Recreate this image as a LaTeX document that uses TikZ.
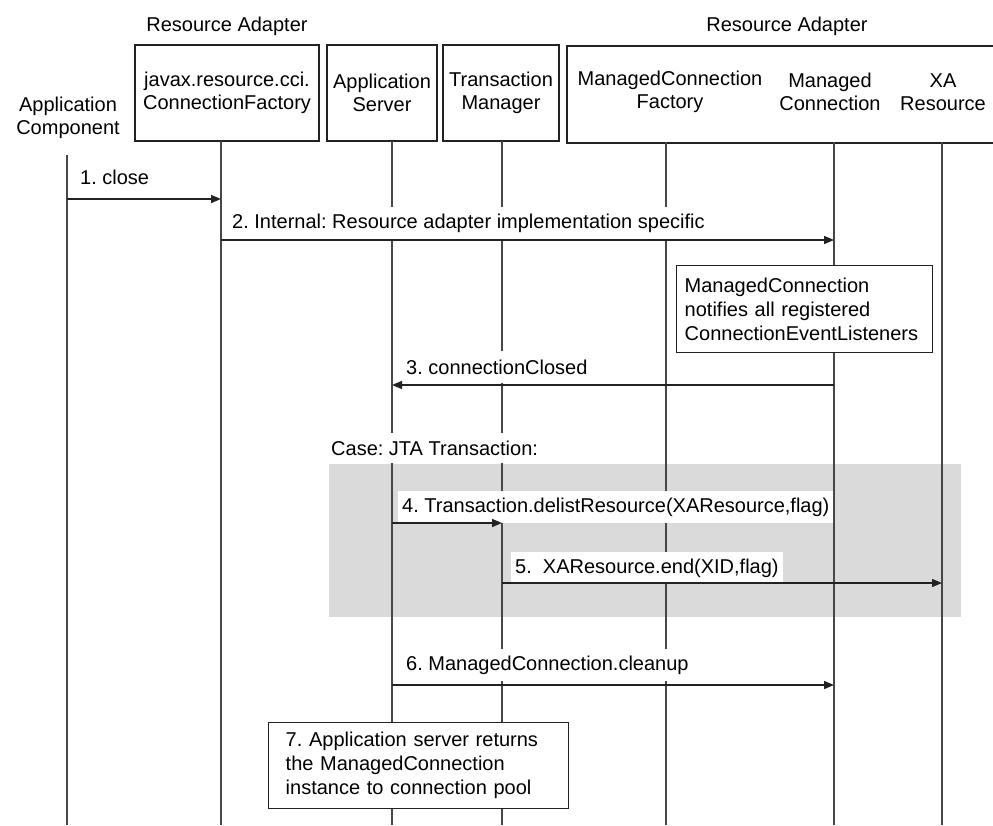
\documentclass[tikz,border=0pt]{standalone}
\usepackage{fontspec}
\setmainfont{Liberation Sans}
\usetikzlibrary{arrows.meta}
\definecolor{jta}{HTML}{DADADA}
\definecolor{ink}{HTML}{222222}
\frenchspacing
\begin{document}
\begin{tikzpicture}[x=1pt,y=-1pt,
  font=\fontsize{20}{23.5}\selectfont\frenchspacing,
  hdrbox/.style={draw=ink, line width=1.6pt, align=center, inner sep=0pt},
  hdrtext/.style={align=center, inner sep=0pt},
  lifeline/.style={draw=black!72, line width=1.3pt},
  msg/.style={draw=ink, line width=1.4pt, -{Triangle[length=10pt,width=8pt]}},
  lbl/.style={fill=white, anchor=west, inner xsep=4pt, inner ysep=0pt, minimum height=32pt},
  notebox/.style={draw=ink, line width=1.4pt, fill=white, align=left, anchor=north west,
    inner ysep=0pt, font=\fontsize{20}{24}\selectfont\frenchspacing}
]
\useasboundingbox (0,0) rectangle (993,825);
\clip (0,0) rectangle (993,825);

% JTA case background
\node[fill=jta, inner sep=0pt, minimum width=632, minimum height=153, anchor=north west] (jta) at (329,464) {};

% group labels
\node[inner sep=0pt] (ra1) at (227,26) {Resource Adapter};
\node[inner sep=0pt] (ra2) at (787,26) {Resource Adapter};

% header boxes
\node[hdrtext] (ac) at (68,118) {Application\\Component};
\node[hdrbox, minimum width=184, minimum height=96] (cf) at (227,93) {javax.resource.cci.\\ConnectionFactory};
\node[hdrbox, minimum width=110, minimum height=96] (as) at (382,93) {Application\\Server};
\node[hdrbox, minimum width=116, minimum height=96] (tm) at (501,93) {Transaction\\Manager};
\node[hdrbox, minimum width=480, minimum height=97, anchor=north west] (rabox) at (566,45) {};
\node[hdrtext] (mcfh) at (670,92) {ManagedConnection\\Factory};
\node[hdrtext] (mch) at (830,92) {Managed\\Connection};
\node[hdrtext] (xah) at (943,92) {XA\\Resource};

% lifeline ends
\coordinate (acT) at (67,155);  \coordinate (acB) at (67,825);
\coordinate (cfT) at (221,141); \coordinate (cfB) at (221,825);
\coordinate (asT) at (392,141); \coordinate (asB) at (392,825);
\coordinate (tmT) at (502,141); \coordinate (tmB) at (502,825);
\coordinate (mcfT) at (666,142); \coordinate (mcfB) at (666,825);
\coordinate (mcT) at (834,142); \coordinate (mcB) at (834,825);
\coordinate (xaT) at (942,142); \coordinate (xaB) at (942,825);

\draw[lifeline] (acT) -- (acB);
\draw[lifeline] (cfT) -- (cfB);
\draw[lifeline] (asT) -- (asB);
\draw[lifeline] (tmT) -- (tmB);
\draw[lifeline] (mcfT) -- (mcfB);
\draw[lifeline] (mcT) -- (mcB);
\draw[lifeline] (xaT) -- (xaB);

% message heights
\coordinate (m1) at (0,199);
\coordinate (m2) at (0,240);
\coordinate (m3) at (0,385);
\coordinate (m4) at (0,523);
\coordinate (m5) at (0,583);
\coordinate (m6) at (0,685);

% labels (white backgrounds hide lifelines)
\node[lbl] (l1) at (76,177) {1. close};
\node[lbl] (l2) at (228,223) {2. Internal: Resource adapter implementation specific};
\node[lbl] (l3) at (402,367) {3. connectionClosed};
\node[lbl, minimum height=30pt] (case) at (327,448) {Case: JTA Transaction:};
\node[lbl] (l4) at (398,507) {4. Transaction.delistResource(XAResource,flag)};
\node[lbl] (l5) at (511,568) {5.~~XAResource.end(XID,flag)};
\node[lbl] (l6) at (402,665) {6. ManagedConnection.cleanup};

% messages
\draw[msg] (acT |- m1) -- (cfT |- m1);
\draw[msg] (cfT |- m2) -- (mcT |- m2);
\draw[msg] (mcT |- m3) -- (asT |- m3);
\draw[msg] (asT |- m4) -- (tmT |- m4);
\draw[msg] (tmT |- m5) -- (xaT |- m5);
\draw[msg] (asT |- m6) -- (mcT |- m6);

% notes
\node[notebox, text width=240, inner xsep=8pt, minimum height=87] (n1) at (676,265)
  {ManagedConnection\\notifies all registered\\ConnectionEventListeners};
\node[notebox, text width=266, inner xsep=17pt, minimum height=86] (n7) at (268,722)
  {7. Application server returns\\the ManagedConnection\\instance to connection pool};
\end{tikzpicture}
\end{document}
